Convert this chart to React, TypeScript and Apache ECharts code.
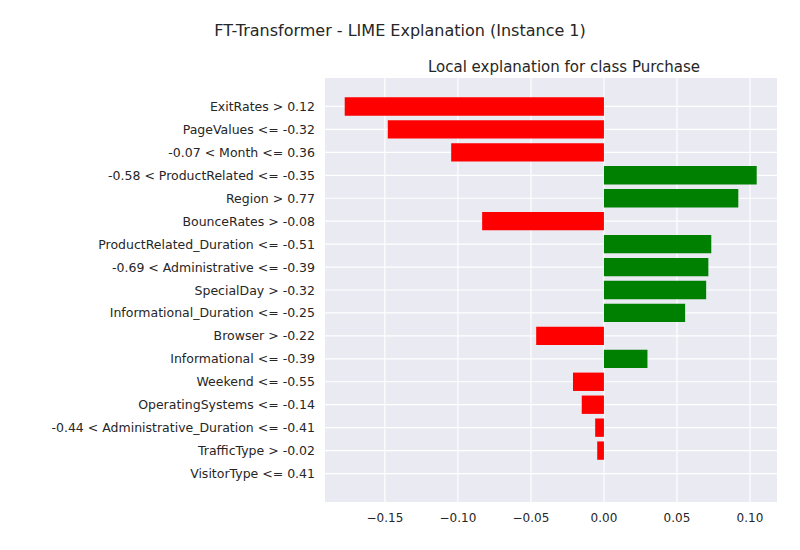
import React, { useEffect, useRef } from 'react';
import * as echarts from 'echarts';

const features = [
  'ExitRates > 0.12',
  'PageValues <= -0.32',
  '-0.07 < Month <= 0.36',
  '-0.58 < ProductRelated <= -0.35',
  'Region > 0.77',
  'BounceRates > -0.08',
  'ProductRelated_Duration <= -0.51',
  '-0.69 < Administrative <= -0.39',
  'SpecialDay > -0.32',
  'Informational_Duration <= -0.25',
  'Browser > -0.22',
  'Informational <= -0.39',
  'Weekend <= -0.55',
  'OperatingSystems <= -0.14',
  '-0.44 < Administrative_Duration <= -0.41',
  'TrafficType > -0.02',
  'VisitorType <= 0.41',
];
const weights = [
  -0.1775, -0.148, -0.1046, 0.1046, 0.092, -0.0834, 0.0735, 0.0715, 0.07,
  0.0556, -0.0464, 0.0298, -0.0212, -0.0152, -0.006, -0.0046, 0,
];
const xTicks = [-0.15, -0.1, -0.05, 0, 0.05, 0.1];
const yTicks = features.map((_, i) => i);

const font = 'DejaVu Sans';

const App: React.FC = () => {
  const ref = useRef<HTMLDivElement>(null);

  useEffect(() => {
    if (!ref.current) return;
    const chart = echarts.init(ref.current, undefined, { renderer: 'svg' });
    const xMin = -0.191;
    const xMax = 0.1185;
    const yMin = -1.24;
    const yMax = 17.24;

    chart.setOption({
      animation: false,
      title: [
        {
          text: 'FT-Transformer - LIME Explanation (Instance 1)',
          left: 'center',
          top: 9,
          textStyle: { fontFamily: font, fontSize: 16, fontWeight: 'normal', color: '#262626' },
        },
        {
          text: 'Local explanation for class Purchase',
          left: 551,
          textAlign: 'center',
          top: 46,
          textStyle: { fontFamily: font, fontSize: 15, fontWeight: 'normal', color: '#262626' },
        },
      ],
      grid: {
        left: 317,
        right: 15,
        top: 70,
        bottom: 40,
        show: true,
        backgroundColor: '#eaeaf2',
        borderWidth: 0,
      },
      xAxis: {
        type: 'value',
        min: xMin,
        max: xMax,
        axisLine: { show: false },
        axisTick: { show: false },
        splitLine: { show: false },
        axisLabel: {
          customValues: xTicks,
          formatter: (v: number) => v.toFixed(2).replace('-', '−'),
          fontFamily: font,
          fontSize: 12,
          color: '#262626',
          margin: 10,
        },
      },
      yAxis: {
        type: 'value',
        inverse: true,
        min: yMin,
        max: yMax,
        axisLine: { show: false },
        axisTick: { show: false },
        splitLine: { show: false },
        axisLabel: {
          customValues: yTicks,
          formatter: (v: number) => features[Math.round(v)] ?? '',
          fontFamily: font,
          fontSize: 12.5,
          color: '#262626',
          margin: 10,
        },
      },
      series: [
        {
          type: 'custom',
          silent: true,
          z: 1,
          data: [0],
          renderItem: (_p: any, api: any) => {
            const children: any[] = [];
            xTicks.forEach((t) => {
              const a = api.coord([t, yMin]);
              const b = api.coord([t, yMax]);
              children.push({ type: 'line', shape: { x1: a[0], y1: a[1], x2: b[0], y2: b[1] }, style: { stroke: '#fff', lineWidth: 1.2 } });
            });
            yTicks.forEach((t) => {
              const a = api.coord([xMin, t]);
              const b = api.coord([xMax, t]);
              children.push({ type: 'line', shape: { x1: a[0], y1: a[1], x2: b[0], y2: b[1] }, style: { stroke: '#fff', lineWidth: 1.2 } });
            });
            return { type: 'group', children };
          },
        },
        {
          type: 'custom',
          z: 2,
          data: weights.map((w, i) => [w, i]),
          renderItem: (_p: any, api: any) => {
            const w = api.value(0);
            const i = api.value(1);
            const p0 = api.coord([0, i - 0.4]);
            const p1 = api.coord([w, i + 0.4]);
            return {
              type: 'rect',
              shape: {
                x: Math.min(p0[0], p1[0]),
                y: p0[1],
                width: Math.abs(p1[0] - p0[0]),
                height: p1[1] - p0[1],
              },
              style: { fill: w > 0 ? '#008000' : '#ff0000' },
            };
          },
        },
      ],
    });

    return () => chart.dispose();
  }, []);

  return <div ref={ref} style={{ width: 784, height: 534 }} />;
};

export default App;
